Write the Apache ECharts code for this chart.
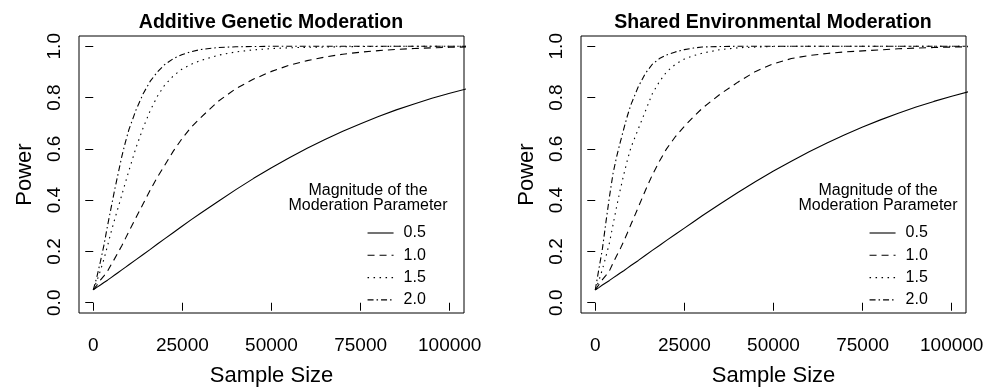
<!DOCTYPE html>
<html>
<head>
<meta charset="utf-8">
<script src="https://cdn.jsdelivr.net/npm/echarts@6/dist/echarts.min.js"></script>
<style>
  html, body { margin: 0; padding: 0; background: #fff; }
  #chart { width: 999px; height: 392px; }
</style>
</head>
<body>
<div id="chart"></div>
<script>
// sample sizes (x) shared by every curve
const sampleSize = [0, 1000, 2000, 3000, 4000, 5000, 6000, 7000, 8000, 9000, 10000,
  12000, 14000, 16000, 18000, 20000, 22500, 25000, 27500, 30000, 35000, 40000, 45000,
  50000, 55000, 60000, 65000, 70000, 75000, 80000, 85000, 90000, 95000, 100000, 105000];

const magnitudes = ['0.5', '1.0', '1.5', '2.0'];

// Additive genetic moderation
const genetic05 = [.05, .06, .069, .079, .088, .098, .108, .118, .128, .138, .148,
  .168, .188, .208, .229, .249, .274, .299, .324, .348, .395, .441, .485,
  .526, .565, .602, .636, .669, .698, .726, .752, .775, .797, .817, .835];
const genetic10 = [.05, .068, .088, .105, .123, .148, .172, .197, .222, .25, .278,
  .332, .386, .44, .49, .535, .592, .642, .685, .72, .785, .835, .872,
  .902, .926, .944, .958, .969, .977, .983, .988, .991, .994, .996, .997];
const genetic15 = [.05, .085, .125, .17, .222, .275, .325, .372, .42, .468, .515,
  .605, .682, .75, .805, .848, .885, .912, .93, .944, .965, .978, .986,
  .991, .994, .996, .997, .998, .999, .999, 1, 1, 1, 1, 1];
const genetic20 = [.05, .1, .16, .225, .3, .37, .44, .505, .57, .625, .675,
  .752, .815, .864, .9, .928, .952, .968, .979, .987, .995, .998, .999,
  1, 1, 1, 1, 1, 1, 1, 1, 1, 1, 1, 1];

// Shared environmental moderation
const shared05 = [.05, .059, .069, .078, .087, .097, .106, .116, .125, .135, .145,
  .164, .184, .204, .223, .243, .267, .291, .315, .339, .385, .43, .473,
  .514, .552, .589, .623, .655, .685, .713, .739, .763, .785, .805, .824];
const shared10 = [.05, .07, .09, .107, .125, .155, .183, .21, .24, .272, .305,
  .37, .436, .498, .552, .6, .648, .688, .724, .758, .813, .86, .902,
  .932, .952, .964, .972, .978, .982, .986, .99, .993, .995, .997, .998];
const shared15 = [.05, .085, .13, .18, .235, .305, .375, .44, .5, .555, .605,
  .675, .745, .815, .862, .9, .93, .95, .963, .973, .987, .994, .997,
  .999, 1, 1, 1, 1, 1, 1, 1, 1, 1, 1, 1];
const shared20 = [.05, .13, .21, .315, .415, .505, .57, .625, .678, .728, .772,
  .84, .893, .93, .952, .966, .978, .987, .993, .997, .999, 1, 1,
  1, 1, 1, 1, 1, 1, 1, 1, 1, 1, 1, 1];

const xTicks = [0, 25000, 50000, 75000, 100000];
const yTicks = [0, 0.2, 0.4, 0.6, 0.8, 1.0];

const FONT = '"Liberation Sans", Arial, Helvetica, sans-serif';
const dashes = ['solid', [7, 5], [1.5, 4.5], [6, 3, 1.5, 3]];

function pairs(ys) {
  return sampleSize.map((x, i) => [x, ys[i]]);
}

function xAxis(gridIndex) {
  return {
    type: 'value', gridIndex: gridIndex, min: -4000, max: 104000,
    name: 'Sample Size', nameLocation: 'middle', nameGap: 52,
    nameTextStyle: { fontFamily: FONT, fontSize: 22, color: '#000' },
    axisLine: { show: false },
    splitLine: { show: false },
    axisTick: { show: true, customValues: xTicks, length: 8, lineStyle: { color: '#000' } },
    axisLabel: {
      customValues: xTicks, margin: 23, fontFamily: FONT, fontSize: 19, color: '#000',
      formatter: v => String(v)
    }
  };
}

function yAxis(gridIndex) {
  return {
    type: 'value', gridIndex: gridIndex, min: -0.04, max: 1.04,
    name: 'Power', nameLocation: 'middle', nameGap: 43,
    nameTextStyle: { fontFamily: FONT, fontSize: 22, color: '#000' },
    axisLine: { show: false },
    splitLine: { show: false },
    axisTick: { show: true, customValues: yTicks, length: 8, lineStyle: { color: '#000' } },
    axisLabel: {
      customValues: yTicks, rotate: 90, margin: 15, fontFamily: FONT, fontSize: 19, color: '#000',
      formatter: v => v.toFixed(1)
    }
  };
}

function curve(name, ys, k, idx) {
  return {
    type: 'line', name: name, xAxisIndex: idx, yAxisIndex: idx,
    data: pairs(ys), symbol: 'none', showSymbol: false, clip: true,
    lineStyle: { color: '#000', width: 1.1, type: dashes[k] },
    itemStyle: { color: '#000' }
  };
}

function legend(left) {
  return {
    orient: 'vertical', left: left, top: 225, padding: 0,
    itemWidth: 26, itemHeight: 14, itemGap: 6.3,
    data: magnitudes, selectedMode: false,
    itemStyle: { opacity: 0 },
    lineStyle: { width: 1.1 },
    textStyle: { fontFamily: FONT, fontSize: 16, lineHeight: 16, color: '#000', padding: [0, 0, 0, 5] }
  };
}

function titleAt(text, x, y, size, weight, lineHeight) {
  return {
    text: text, left: x, top: y, padding: 0, textAlign: 'center',
    textStyle: { fontFamily: FONT, fontSize: size, fontWeight: weight, color: '#000', lineHeight: lineHeight }
  };
}

const chart = echarts.init(document.getElementById('chart'), null, { renderer: 'canvas' });

const geneticSets = [genetic05, genetic10, genetic15, genetic20];
const sharedSets = [shared05, shared10, shared15, shared20];

chart.setOption({
  animation: false,
  backgroundColor: '#fff',
  title: [
    titleAt('Additive Genetic Moderation', 271, 13, 19.5, 'bold', 20),
    titleAt('Shared Environmental Moderation', 773, 13, 19.5, 'bold', 20),
    titleAt('Magnitude of the\nModeration Parameter', 368, 182.5, 16, 'normal', 15.5),
    titleAt('Magnitude of the\nModeration Parameter', 878, 182.5, 16, 'normal', 15.5)
  ],
  grid: [
    { left: 79, right: 535, top: 36, bottom: 72, show: true, borderColor: '#000', borderWidth: 1, backgroundColor: 'transparent' },
    { left: 581, right: 33, top: 36, bottom: 72, show: true, borderColor: '#000', borderWidth: 1, backgroundColor: 'transparent' }
  ],
  legend: [legend(367), legend(869)],
  xAxis: [xAxis(0), xAxis(1)],
  yAxis: [yAxis(0), yAxis(1)],
  series: magnitudes.map((m, k) => curve(m, geneticSets[k], k, 0))
    .concat(magnitudes.map((m, k) => curve(m, sharedSets[k], k, 1)))
});
</script>
</body>
</html>
